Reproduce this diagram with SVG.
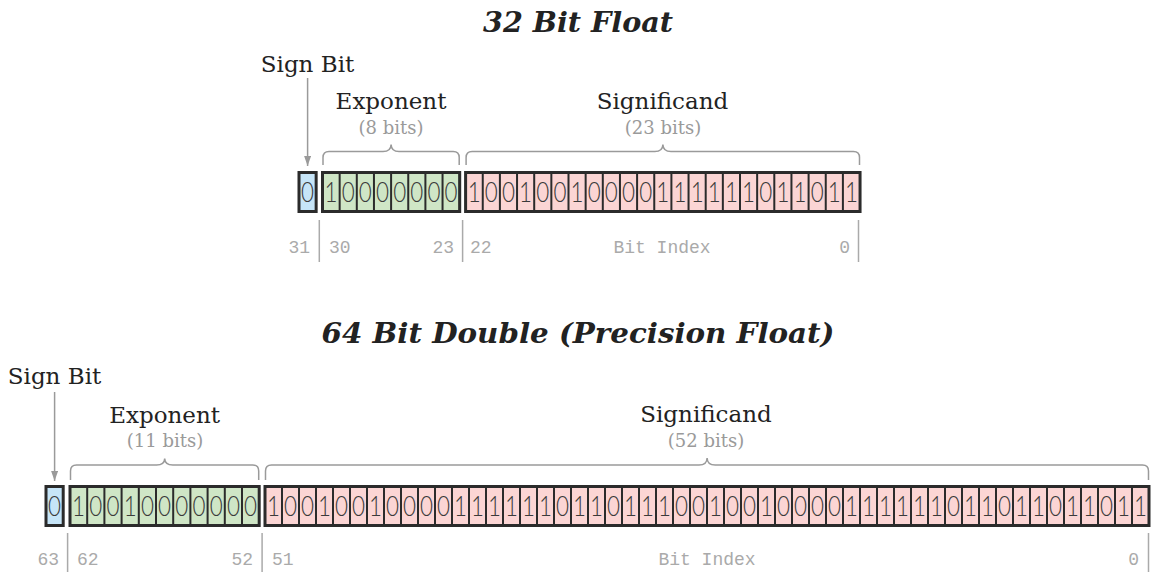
<svg xmlns="http://www.w3.org/2000/svg" width="1152" height="573" viewBox="0 0 1152 573">
<defs>
<marker id="ah" markerUnits="userSpaceOnUse" markerWidth="10" markerHeight="7" refX="10" refY="3.5" orient="auto">
<path d="M0,0 L10,3.5 L0,7 z" fill="#9a9a9a"/>
</marker>
<style>
.title{font-family:"DejaVu Serif",serif;font-weight:bold;font-style:italic;font-size:27px;fill:#222;text-anchor:middle}
.lab{font-family:"DejaVu Serif",serif;font-size:23px;fill:#222;text-anchor:middle}
.sub{font-family:"DejaVu Serif",serif;font-size:18px;fill:#9a9a9a;text-anchor:middle}
.bits{font-family:Lato,"Liberation Sans",sans-serif;font-weight:300;font-size:28px;fill:#3a3a3a;text-anchor:middle}
.idx{font-family:"Liberation Mono",monospace;font-size:18px;fill:#aaa}
.brace{fill:none;stroke:#9a9a9a;stroke-width:1.5}
.tick{stroke:#aaa;stroke-width:1.5}
.out{fill:none;stroke:#2b2b2b;stroke-width:3}
.div{stroke:#2b2b2b;stroke-width:39}
.sgn{fill:#c6e5f8}
.exp{fill:#cfe6c6}
.sig{fill:#fbd5d4}
.arrow{stroke:#9a9a9a;stroke-width:1.5;fill:none}
</style>
</defs>

<g id="title32"><text class="title" x="578" y="32" textLength="190" lengthAdjust="spacingAndGlyphs">32 Bit Float</text></g>

<g id="signlabel32"><text class="lab" x="307.5" y="72">Sign Bit</text></g>

<g id="explabel32">
<text class="lab" x="391" y="109">Exponent</text>
<text class="sub" x="391" y="134">(8 bits)</text>
<path class="brace" d="M323,165 V157.5 Q323,151.5 329,151.5 H383 C388,151.5 391,149 391.1,144.5 C391.2,149 394,151.5 399,151.5 H453.2 Q459.2,151.5 459.2,157.5 V165"/>
</g>

<g id="siglabel32">
<text class="lab" x="662.5" y="109">Significand</text>
<text class="sub" x="663" y="134">(23 bits)</text>
<path class="brace" d="M466.1,165 V157.5 Q466.1,151.5 472.1,151.5 H654.8 C659.8,151.5 662.8,149 662.9,144.5 C663,149 666,151.5 671,151.5 H853.5 Q859.5,151.5 859.5,157.5 V165"/>
</g>

<g id="sign32">
<rect class="sgn" x="299" y="172.5" width="17.15" height="39"/>
<rect class="out" x="299" y="172.5" width="17.15" height="39"/>
<text class="bits" transform="scale(0.8,1)" x="384.5" y="202">0</text>
</g>

<g id="exp32">
<rect class="exp" x="322.5" y="172.5" width="137.2" height="39"/>
<line class="div" x1="338.65" y1="192" x2="459.7" y2="192" stroke-dasharray="2 15.15"/>
<rect class="out" x="322.5" y="172.5" width="137.2" height="39"/>
<text class="bits" transform="scale(0.8,1)" x="413.84 435.28 456.72 478.16 499.59 521.03 542.47 563.91" y="202">10000000</text>
</g>

<g id="sig32">
<rect class="sig" x="465.6" y="172.5" width="394.45" height="39"/>
<line class="div" x1="481.75" y1="192" x2="860" y2="192" stroke-dasharray="2 15.15"/>
<rect class="out" x="465.6" y="172.5" width="394.45" height="39"/>
<text class="bits" transform="scale(0.8,1)" x="592.72 614.16 635.59 657.03 678.47 699.91 721.34 742.78 764.22 785.66 807.09 828.53 849.97 871.41 892.84 914.28 935.72 957.16 978.59 1000.03 1021.47 1042.91 1064.34" y="202">10010010000111111011011</text>
</g>

<g id="index32">
<line class="tick" x1="319.3" y1="220" x2="319.3" y2="262"/>
<line class="tick" x1="462.6" y1="220" x2="462.6" y2="262"/>
<line class="tick" x1="858.5" y1="220" x2="858.5" y2="262"/>
<text class="idx" x="310" y="253" text-anchor="end">31</text>
<text class="idx" x="329" y="253">30</text>
<text class="idx" x="454" y="253" text-anchor="end">23</text>
<text class="idx" x="470" y="253">22</text>
<text class="idx" x="662" y="253" text-anchor="middle">Bit Index</text>
<text class="idx" x="850" y="253" text-anchor="end">0</text>
</g>

<g id="title64"><text class="title" x="578" y="343" textLength="513" lengthAdjust="spacingAndGlyphs">64 Bit Double (Precision Float)</text></g>

<g id="signlabel64"><text class="lab" x="54.5" y="384">Sign Bit</text></g>

<g id="explabel64">
<text class="lab" x="164.6" y="423">Exponent</text>
<text class="sub" x="165" y="447">(11 bits)</text>
<path class="brace" d="M70.5,480 V471 Q70.5,465 76.5,465 H156.6 C161.6,465 164.6,462.5 164.7,458.5 C164.8,462.5 167.8,465 172.8,465 H252.7 Q258.7,465 258.7,471 V480"/>
</g>

<g id="siglabel64">
<text class="lab" x="706" y="422">Significand</text>
<text class="sub" x="706" y="447">(52 bits)</text>
<path class="brace" d="M265.5,480 V471 Q265.5,465 271.5,465 H699 C704,465 707,462.5 707.1,458 C707.2,462.5 710.2,465 715.2,465 H1142.5 Q1148.5,465 1148.5,471 V480"/>
</g>

<g id="sign64">
<rect class="sgn" x="46" y="486.5" width="17.2" height="39"/>
<rect class="out" x="46" y="486.5" width="17.2" height="39"/>
<text class="bits" transform="scale(0.8,1)" x="68.25" y="516">0</text>
</g>

<g id="exp64">
<rect class="exp" x="70" y="486.5" width="189.2" height="39"/>
<line class="div" x1="86.2" y1="506" x2="259.2" y2="506" stroke-dasharray="2 15.2"/>
<rect class="out" x="70" y="486.5" width="189.2" height="39"/>
<text class="bits" transform="scale(0.8,1)" x="98.25 119.75 141.25 162.75 184.25 205.75 227.25 248.75 270.25 291.75 313.25" y="516">10010000000</text>
</g>

<g id="sig64">
<rect class="sig" x="265" y="486.5" width="884" height="39"/>
<line class="div" x1="281" y1="506" x2="1149" y2="506" stroke-dasharray="2 15"/>
<rect class="out" x="265" y="486.5" width="884" height="39"/>
<text class="bits" transform="scale(0.8,1)" x="341.88 363.13 384.38 405.63 426.88 448.13 469.38 490.63 511.88 533.13 554.38 575.63 596.88 618.13 639.38 660.63 681.88 703.13 724.38 745.63 766.88 788.13 809.38 830.63 851.88 873.13 894.38 915.63 936.88 958.13 979.38 1000.63 1021.88 1043.13 1064.38 1085.63 1106.88 1128.13 1149.38 1170.63 1191.88 1213.13 1234.38 1255.63 1276.88 1298.13 1319.38 1340.63 1361.88 1383.13 1404.38 1425.63" y="516">1001001000011111101101110010010000111111011011011011</text>
</g>

<g id="index64">
<line class="tick" x1="67.6" y1="533" x2="67.6" y2="572"/>
<line class="tick" x1="262.1" y1="533" x2="262.1" y2="572"/>
<line class="tick" x1="1148.5" y1="533" x2="1148.5" y2="572"/>
<text class="idx" x="59" y="565" text-anchor="end">63</text>
<text class="idx" x="77" y="565">62</text>
<text class="idx" x="253" y="565" text-anchor="end">52</text>
<text class="idx" x="272" y="565">51</text>
<text class="idx" x="707" y="565" text-anchor="middle">Bit Index</text>
<text class="idx" x="1139" y="565" text-anchor="end">0</text>
</g>

<g id="connectors">
<line class="arrow" x1="307.6" y1="78" x2="307.6" y2="166" marker-end="url(#ah)"/>
<line class="arrow" x1="54.6" y1="392" x2="54.6" y2="481" marker-end="url(#ah)"/>
</g>
</svg>
